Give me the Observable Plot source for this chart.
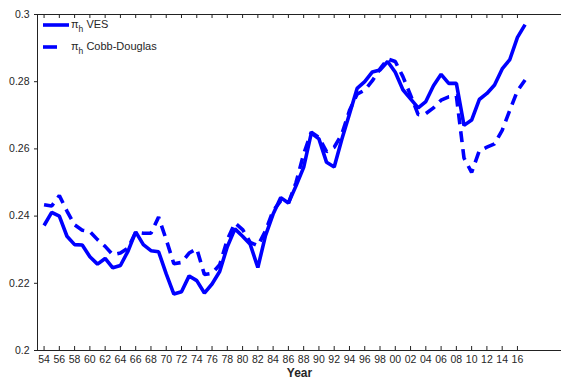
<!DOCTYPE html>
<html>
<head>
<meta charset="utf-8">
<script src="https://cdn.jsdelivr.net/npm/d3@7"></script>
<script src="https://cdn.jsdelivr.net/npm/@observablehq/plot@0.6"></script>
<style>
  html, body { margin: 0; padding: 0; background: #fff; }
  #chart { width: 561px; height: 380px; }
  svg { font-family: "Liberation Sans", Arial, sans-serif; }
</style>
</head>
<body>
<div id="chart"></div>
<script>
// Household share pi_h, 1954-2017, under two production specifications
const years = d3.range(1954, 2018);

const vesShare = [
  0.2372, 0.2411, 0.2400, 0.2340, 0.2315, 0.2314, 0.2279, 0.2257, 0.2274, 0.2246,
  0.2253, 0.2296, 0.2353, 0.2315, 0.2297, 0.2294, 0.2228, 0.2168, 0.2175, 0.2222,
  0.2208, 0.2171, 0.2198, 0.2235, 0.2309, 0.2362, 0.2340, 0.2316, 0.2247, 0.2342,
  0.2406, 0.2455, 0.2439, 0.2490, 0.2545, 0.2647, 0.2630, 0.2560, 0.2546, 0.2629,
  0.2704, 0.2780, 0.2800, 0.2829, 0.2835, 0.2860, 0.2828, 0.2776, 0.2749, 0.2722,
  0.2741, 0.2788, 0.2822, 0.2795, 0.2795, 0.2670, 0.2686, 0.2747, 0.2765, 0.2790,
  0.2838, 0.2866, 0.2932, 0.2970
];

const cobbDouglasShare = [
  0.2434, 0.2430, 0.2461, 0.2415, 0.2374, 0.2358, 0.2354, 0.2330, 0.2310, 0.2285,
  0.2290, 0.2305, 0.2352, 0.2349, 0.2349, 0.2397, 0.2330, 0.2258, 0.2262, 0.2290,
  0.2303, 0.2226, 0.2230, 0.2255, 0.2330, 0.2380, 0.2360, 0.2322, 0.2312, 0.2356,
  0.2416, 0.2445, 0.2438, 0.2500, 0.2585, 0.2650, 0.2634, 0.2592, 0.2605, 0.2644,
  0.2714, 0.2763, 0.2775, 0.2803, 0.2838, 0.2868, 0.2860, 0.2815, 0.2760, 0.2702,
  0.2705, 0.2722, 0.2745, 0.2755, 0.2758, 0.2573, 0.2530, 0.2594, 0.2605, 0.2615,
  0.2655, 0.2715, 0.2773, 0.2805
];

const xTicks = d3.range(1954, 2017, 2);
const yTicks = [0.2, 0.22, 0.24, 0.26, 0.28, 0.3];
const seriesNames = ["VES", "Cobb-Douglas"];

const blue = "#0000ff";
const axisColor = "#222";
const dash = "11,7";

const ves = years.map((year, i) => ({year, value: vesShare[i]}));
const cd = years.map((year, i) => ({year, value: cobbDouglasShare[i]}));

const W = 561, H = 380;
const mLeft = 37, mTop = 14, mBottom = 30, mRight = 0;
const xDomain = [1953.14, 2021.77];
const frameH = H - mTop - mBottom;

const chart = Plot.plot({
  width: W,
  height: H,
  marginLeft: mLeft,
  marginRight: mRight,
  marginTop: mTop,
  marginBottom: mBottom,
  style: {fontFamily: "'Liberation Sans', Arial, sans-serif", color: "#262626", background: "#fff"},
  x: {domain: xDomain, axis: null},
  y: {domain: [0.2, 0.3], axis: null},
  marks: [
    // y axis: outward ticks and labels
    Plot.axisY({
      ticks: yTicks, tickSize: 3, tickPadding: 5, fontSize: 10.5, stroke: axisColor,
      tickFormat: d => String(Math.round(d * 100) / 100), label: null
    }),
    // x tick labels (two-digit years)
    Plot.axisX({
      ticks: xTicks, tickSize: 0, tickPadding: 5.5, fontSize: 10.5,
      tickFormat: d => String(d).slice(2), label: null
    }),
    // inward tick marks on the bottom and top edges
    Plot.ruleX(xTicks, {x: d => d, stroke: axisColor, strokeWidth: 1, insetTop: frameH - 4}),
    Plot.ruleX(xTicks, {x: d => d, stroke: axisColor, strokeWidth: 1, insetBottom: frameH - 4}),
    // box edges: bottom, top, left
    Plot.ruleY([0.2, 0.3], {stroke: axisColor, strokeWidth: 1}),
    Plot.ruleX([xDomain[0]], {stroke: axisColor, strokeWidth: 1}),
    // series
    Plot.line(cd, {x: "year", y: "value", stroke: blue, strokeWidth: 3.6,
      strokeDasharray: dash, strokeLinecap: "butt", strokeLinejoin: "miter"}),
    Plot.line(ves, {x: "year", y: "value", stroke: blue, strokeWidth: 3.6,
      strokeLinecap: "butt", strokeLinejoin: "miter"}),
    Plot.text(["Year"], {frameAnchor: "bottom", dy: 26, fontWeight: "bold", fontSize: 12, fill: "#262626"})
  ]
});

// legend in the upper-left corner of the plot
const svg = d3.select(chart);
const legend = svg.append("g")
  .attr("font-size", 11)
  .attr("fill", "#262626")
  .attr("text-anchor", "start");
const rows = [
  {name: seriesNames[0], y: 25, x2: 69},
  {name: seriesNames[1], y: 47, x2: 57}
];
for (const r of rows) {
  legend.append("line")
    .attr("x1", 43).attr("x2", r.x2).attr("y1", r.y).attr("y2", r.y)
    .attr("stroke", blue).attr("stroke-width", 3.6);
  const t = legend.append("text").attr("x", 71).attr("y", r.y + 3).attr("text-anchor", "start");
  t.append("tspan").text("\u03c0");
  t.append("tspan").attr("font-size", 8.5).attr("dy", 4).text("h");
  t.append("tspan").attr("dy", -4).text("\u00a0" + r.name);
}

document.getElementById("chart").appendChild(chart);
</script>
</body>
</html>
